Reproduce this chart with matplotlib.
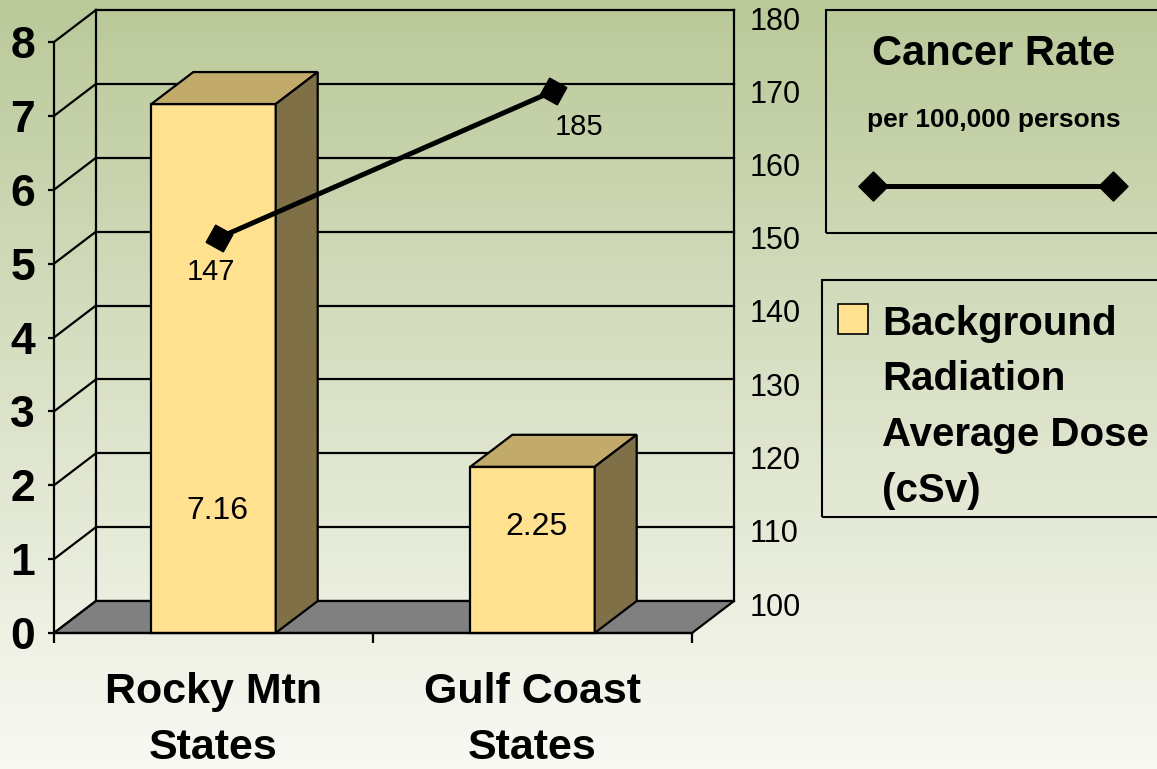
import numpy as np
import matplotlib
matplotlib.use("Agg")
import matplotlib.pyplot as plt
from matplotlib import font_manager
from matplotlib.patches import Polygon, Rectangle
from matplotlib.lines import Line2D

# --- data ---
categories = ["Rocky Mtn\nStates", "Gulf Coast\nStates"]
radiation_dose = [7.16, 2.25]          # cSv, left axis
cancer_rate_labels = [147, 185]        # printed labels on the line
cancer_rate_plotted = [150, 170]       # where the markers actually sit on the right axis
left_ticks = list(range(0, 9))
right_ticks = list(range(100, 181, 10))


def has_font(name):
    try:
        font_manager.findfont(font_manager.FontProperties(family=name), fallback_to_default=False)
        return True
    except Exception:
        return False


NUM_FONT = "Liberation Sans Narrow" if has_font("Liberation Sans Narrow") else "Liberation Sans"
WORD_FONT = "Liberation Sans"

W, H = 1157, 769
BAR_FRONT = "#ffe190"
BAR_TOP = "#c2aa6b"
BAR_SIDE = "#7f7048"
FLOOR = "#808080"
LW = 1.6


def px(x, y):
    # figure pixel (from top-left) -> figure fraction
    return x / W, 1 - y / H


fig = plt.figure(figsize=(W / 100, H / 100), dpi=100)

# gradient background, green at the top fading to off-white
bg = fig.add_axes([0, 0, 1, 1], zorder=-10)
top = np.array([186, 201, 153]) / 255
bottom = np.array([249, 249, 244]) / 255
t = np.linspace(0, 1, 256)[:, None]
grad = top * (1 - t) + bottom * t
bg.imshow(grad[:, None, :], aspect="auto", extent=[0, 1, 0, 1])
bg.axis("off")

# main axes: front plane x -0.5..1.5, value 0..8, plus the 3D depth offset
x_left, x_front_right, x_back_right = 54, 692, 734
y_zero, y_eight, y_top = 633, 42, 10
cat_px = (x_front_right - x_left) / 2
val_px = (y_zero - y_eight) / 8
ddx = (x_back_right - x_front_right) / cat_px
ddy = (y_eight - y_top) / val_px

l, b = px(x_left, y_zero)
r, tp = px(x_back_right, y_top)
ax = fig.add_axes([l, b, r - l, tp - b])
ax.set_facecolor("none")
ax.set_xlim(-0.5, 1.5 + ddx)
ax.set_ylim(0, 8 + ddy)

# back wall gridlines and side wall diagonals
for v in left_ticks:
    ax.plot([-0.5 + ddx, 1.5 + ddx], [v + ddy, v + ddy], color="black", lw=LW, zorder=1, clip_on=False)
    ax.plot([-0.5, -0.5 + ddx], [v, v + ddy], color="black", lw=LW, zorder=1, clip_on=False)
for xv in (-0.5 + ddx, 1.5 + ddx):
    ax.plot([xv, xv], [ddy, 8 + ddy], color="black", lw=LW, zorder=1, clip_on=False)

# floor
ax.add_patch(Polygon([(-0.5, 0), (1.5, 0), (1.5 + ddx, ddy), (-0.5 + ddx, ddy)],
                     closed=True, facecolor=FLOOR, edgecolor="black", lw=LW, zorder=2, clip_on=False))

# 3D bars
bar_w = 0.39
bar_label_y = [1.54, 1.33]
for i, v in enumerate(radiation_dose):
    x0, x1 = i - bar_w / 2, i + bar_w / 2
    front = [(x0, 0), (x1, 0), (x1, v), (x0, v)]
    topf = [(x0, v), (x1, v), (x1 + ddx, v + ddy), (x0 + ddx, v + ddy)]
    side = [(x1, 0), (x1 + ddx, ddy), (x1 + ddx, v + ddy), (x1, v)]
    for poly, col in ((front, BAR_FRONT), (topf, BAR_TOP), (side, BAR_SIDE)):
        ax.add_patch(Polygon(poly, closed=True, facecolor=col, edgecolor="black",
                             lw=LW, zorder=3, joinstyle="miter", clip_on=False))
    ax.text(i + 0.012, bar_label_y[i], f"{v:.2f}", ha="center", va="baseline",
            fontsize=23, family=NUM_FONT, zorder=4)

# axes, ticks
for s in ("top", "right"):
    ax.spines[s].set_visible(False)
ax.spines["left"].set_bounds(0, 8)
ax.spines["bottom"].set_bounds(-0.5, 1.5)
for s in ("left", "bottom"):
    ax.spines[s].set_linewidth(LW)
    ax.spines[s].set_zorder(3.5)
ax.set_yticks(left_ticks)
ax.set_yticklabels([str(v) for v in left_ticks], fontsize=32, fontweight="bold", family=NUM_FONT)
ax.tick_params(axis="y", length=4.3, width=LW, pad=9.4)
ax.set_xticks([-0.5, 0.5, 1.5])
ax.set_xticklabels([])
ax.tick_params(axis="x", length=7.2, width=LW, direction="out")

for i, name in enumerate(categories):
    for k, line in enumerate(name.split("\n")):
        ax.text(i, (y_zero - (703 + 56 * k)) / val_px, line, ha="center", va="baseline",
                fontsize=31, fontweight="bold", family=WORD_FONT, clip_on=False)

# secondary axis for the cancer rate
ax2 = ax.twinx()
r100, r180 = 604, 18
scale = (r100 - r180) / 80
ax2.set_ylim(100 - (y_zero - r100) / scale, 100 + (r100 - y_top) / scale)
for s in ax2.spines.values():
    s.set_visible(False)
ax2.set_yticks(right_ticks)
ax2.set_yticklabels([str(v) for v in right_ticks], fontsize=22, family=NUM_FONT)
ax2.tick_params(axis="y", length=0, pad=11.5)

# markers sit at slightly different depths in the original
marker_depth_shift = [0.017, 0.064]
line_x = [i + s for i, s in enumerate(marker_depth_shift)]
ax2.plot(line_x, cancer_rate_plotted, color="black", lw=3.6, marker=(4, 0, 16),
         markersize=20, zorder=5, clip_on=False)
label_offsets = [(-8, -42), (26, -44)]
for xv, yv, lab, off in zip(line_x, cancer_rate_plotted, cancer_rate_labels, label_offsets):
    ax2.annotate(str(lab), (xv, yv), xytext=off, textcoords="offset pixels",
                 ha="center", va="baseline", fontsize=21, family=NUM_FONT)

# legend boxes, drawn by hand to match the original layout
x0, y0 = px(826, 233)
x1, y1 = px(1175, 10)
fig.add_artist(Rectangle((x0, y0), x1 - x0, y1 - y0, transform=fig.transFigure,
                         facecolor="none", edgecolor="black", lw=1.5))
fig.text(*px(994, 65), "Cancer Rate", ha="center", va="baseline",
         fontsize=30, fontweight="bold", family=WORD_FONT)
fig.text(*px(994, 127), "per 100,000 persons", ha="center", va="baseline",
         fontsize=19, fontweight="bold", family=WORD_FONT)
lx0, ly = px(873, 186)
lx1, _ = px(1113, 186)
fig.add_artist(Line2D([lx0, lx1], [ly, ly], transform=fig.transFigure, color="black",
                      lw=3.6, marker=(4, 0, 0), markersize=21))

x0, y0 = px(822, 517)
x1, y1 = px(1175, 280)
fig.add_artist(Rectangle((x0, y0), x1 - x0, y1 - y0, transform=fig.transFigure,
                         facecolor="none", edgecolor="black", lw=1.5))
sx0, sy0 = px(838, 334)
sx1, sy1 = px(868, 304)
fig.add_artist(Rectangle((sx0, sy0), sx1 - sx0, sy1 - sy0, transform=fig.transFigure,
                         facecolor=BAR_FRONT, edgecolor="black", lw=1.2))
legend_lines = ["Background", "Radiation", "Average Dose", "(cSv)"]
for k, line in enumerate(legend_lines):
    fig.text(*px(882, 335 + 55.5 * k), line, ha="left", va="baseline",
             fontsize=29, fontweight="bold", family=WORD_FONT)

fig.savefig("out.png", dpi=100)
